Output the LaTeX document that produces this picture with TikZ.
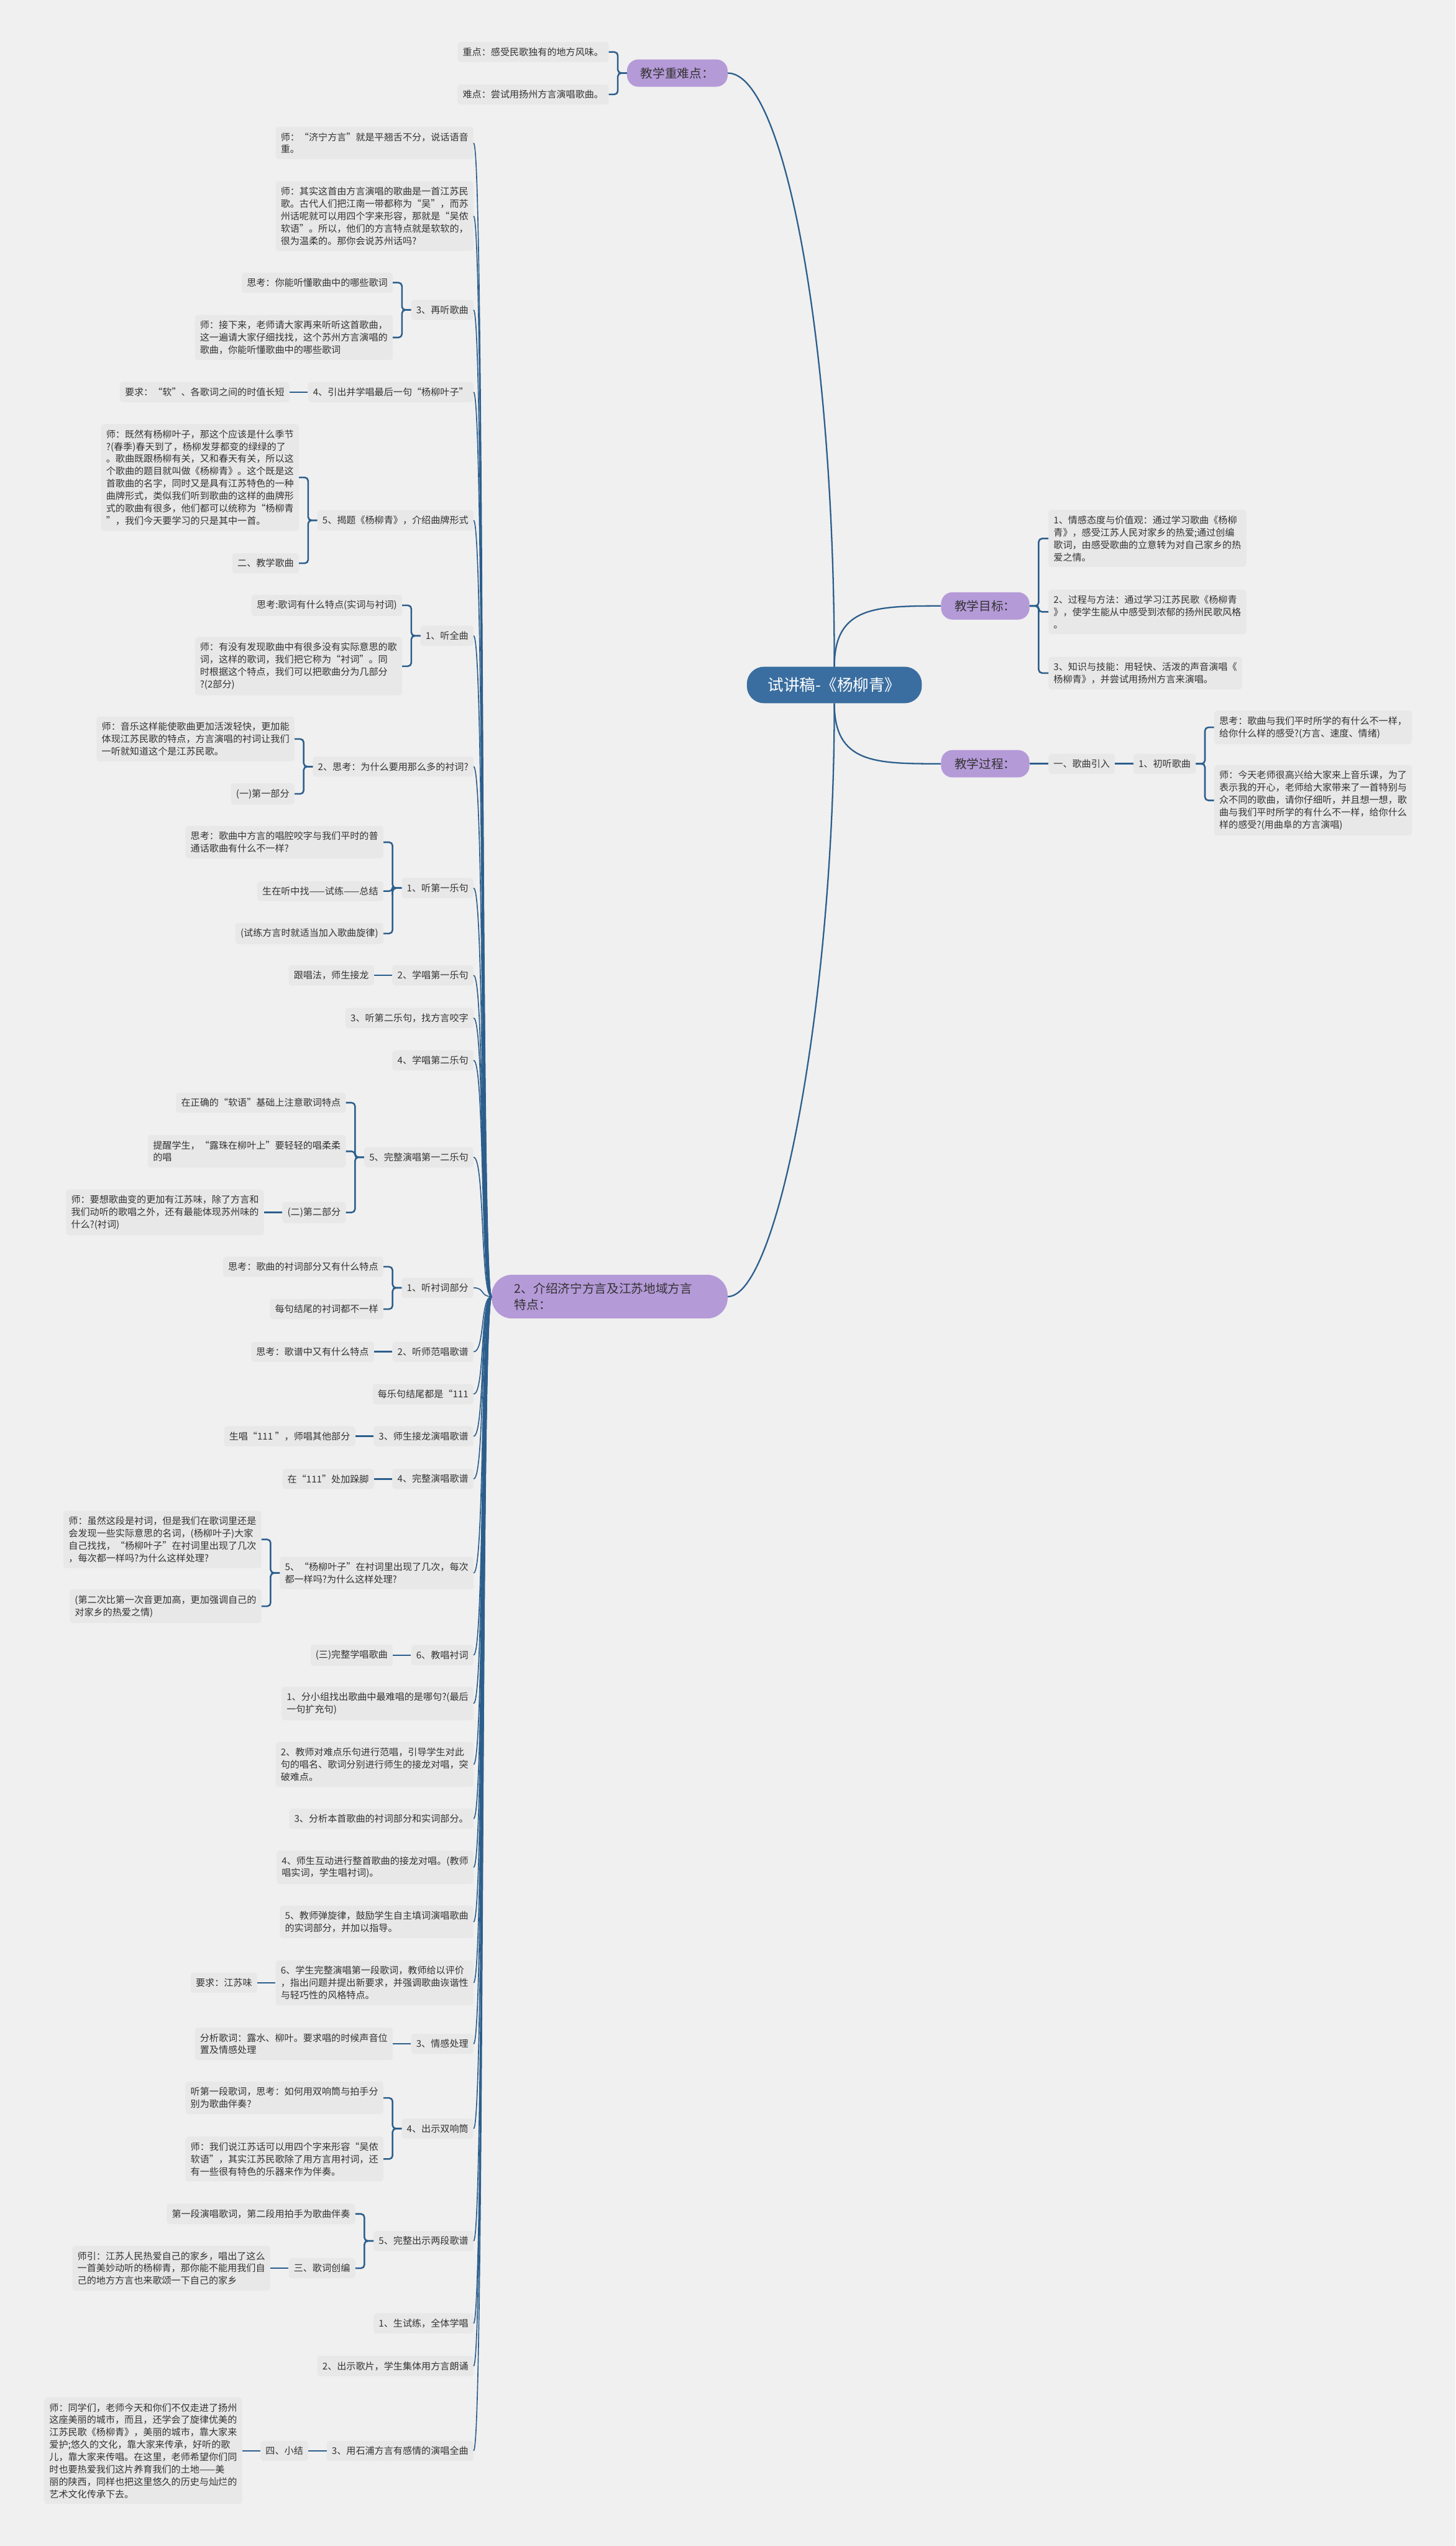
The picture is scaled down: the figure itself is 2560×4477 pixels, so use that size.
\documentclass[tikz,border=0pt]{standalone}
\usepackage{fontspec}
\usepackage{tikz}
\usetikzlibrary{positioning}
\newfontfamily\cjk{Noto Sans CJK SC}
\definecolor{bgcol}{RGB}{240,240,240}
\definecolor{boxgray}{RGB}{232,232,232}
\definecolor{linkblue}{RGB}{44,94,140}
\definecolor{rootblue}{RGB}{58,110,160}
\definecolor{topicpurple}{RGB}{181,154,216}
\definecolor{inkgray}{RGB}{51,51,51}

\begin{document}
\begin{tikzpicture}[x=1pt, y=-1pt,
        % boxes of the map
        root/.style={fill=rootblue, text=white, rounded corners=30pt, inner xsep=37pt, inner ysep=19pt, font=\cjk\fontsize{28}{34}\selectfont},
        topic/.style={fill=topicpurple, text=inkgray, rounded corners=20pt, inner xsep=24pt, inner ysep=14pt, align=left, font=\cjk\fontsize{21.5}{29}\selectfont},
        leaf/.style={fill=boxgray, text=inkgray, rounded corners=5pt, inner xsep=9pt, inner ysep=10pt, align=left, font=\cjk\fontsize{16.5}{21.7}\selectfont},
        % connectors
        stem/.style={draw=linkblue, line width=2.5pt},
        trunk/.style={draw=linkblue, line width=1.8pt},
        branch/.style={draw=linkblue, line width=2.8pt, rounded corners=6pt}
    ]

    \fill[bgcol] (0,0) rectangle (2560,4477);

    % centre and first level
    \node[root] (title) at (1467.5,1204.5) {试讲稿-《杨柳青》};
    \node[topic, anchor=east] (zhongnan) at (1280,128.5) {教学重难点：};
    \node[topic, anchor=west] (mubiao) at (1655,1065.5) {教学目标：};
    \node[topic, anchor=west] (guocheng) at (1655,1343) {教学过程：};
    \node[topic, anchor=east, text width=335pt, inner xsep=40pt, rounded corners=36pt] (fangyan) at (1280,2280) {2、介绍济宁方言及江苏地域方言\\特点：};

    \draw[stem] (title.north) .. controls (1467.5,600) and (1380,128.5) .. (zhongnan.east);
    \draw[stem] (title.north) .. controls (1467.5,1066) and (1540,1065.5) .. (mubiao.west);
    \draw[stem] (title.south) .. controls (1467.5,1343) and (1540,1343) .. (guocheng.west);
    \draw[stem] (title.south) .. controls (1467.5,1750) and (1370,2280) .. (fangyan.east);

    % key points
    \node[leaf, left=32pt of zhongnan, yshift=37pt] (zd1) {重点：感受民歌独有的地方风味。};
    \node[leaf, left=32pt of zhongnan, yshift=-37.5pt] (zd2) {难点：尝试用扬州方言演唱歌曲。};
    \foreach \c in {zd1,zd2}
        \draw[branch] (zhongnan.west) -- ++(-16,0) |- (\c.east);

    % goals
    \node[leaf, right=33pt of mubiao, yshift=118.5pt] (goal1) {1、情感态度与价值观：通过学习歌曲《杨柳\\青》，感受江苏人民对家乡的热爱;通过创编\\歌词，由感受歌曲的立意转为对自己家乡的热\\爱之情。};
    \node[leaf, right=33pt of mubiao, yshift=-10.5pt] (goal2) {2、过程与方法：通过学习江苏民歌《杨柳青\\》，使学生能从中感受到浓郁的扬州民歌风格\\。};
    \node[leaf, right=33pt of mubiao, yshift=-118pt] (goal3) {3、知识与技能：用轻快、活泼的声音演唱《\\杨柳青》，并尝试用扬州方言来演唱。};
    \foreach \c in {goal1,goal2,goal3}
        \draw[branch] (mubiao.east) -- ++(16,0) |- (\c.west);

    % process
    \node[leaf, right=33pt of guocheng] (yinru) {一、歌曲引入};
    \node[leaf, right=32pt of yinru] (chuting) {1、初听歌曲};
    \node[leaf, right=32pt of chuting, yshift=64pt] (think1) {思考：歌曲与我们平时所学的有什么不一样，\\给你什么样的感受?(方言、速度、情绪)};
    \node[leaf, right=32pt of chuting, yshift=-64.5pt] (teach1) {师：今天老师很高兴给大家来上音乐课，为了\\表示我的开心，老师给大家带来了一首特别与\\众不同的歌曲，请你仔细听，并且想一想，歌\\曲与我们平时所学的有什么不一样，给你什么\\样的感受?(用曲阜的方言演唱)};
    \draw[branch] (guocheng.east) -- (yinru.west);
    \draw[branch] (yinru.east) -- (chuting.west);
    \foreach \c in {think1,teach1}
        \draw[branch] (chuting.east) -- ++(16,0) |- (\c.west);

    % the long left column
    \node[leaf, anchor=east] (m1) at (833,251.5) {师：“济宁方言”就是平翘舌不分，说话语音\\重。};
    \node[leaf, anchor=east] (m2) at (833,380) {师：其实这首由方言演唱的歌曲是一首江苏民\\歌。古代人们把江南一带都称为“吴”，而苏\\州话呢就可以用四个字来形容，那就是“吴侬\\软语”。所以，他们的方言特点就是软软的，\\很为温柔的。那你会说苏州话吗?};
    \node[leaf, anchor=east] (m3) at (833,545) {3、再听歌曲};
    \node[leaf, anchor=east] (m4) at (833,689.5) {4、引出并学唱最后一句“杨柳叶子”};
    \node[leaf, anchor=east] (m5) at (833,915) {5、揭题《杨柳青》，介绍曲牌形式};
    \node[leaf, anchor=east] (m6) at (833,1118) {1、听全曲};
    \node[leaf, anchor=east] (m7) at (833,1348) {2、思考：为什么要用那么多的衬词?};
    \node[leaf, anchor=east] (m8) at (833,1561.5) {1、听第一乐句};
    \node[leaf, anchor=east] (m9) at (833,1715) {2、学唱第一乐句};
    \node[leaf, anchor=east] (m10) at (833,1790) {3、听第二乐句，找方言咬字};
    \node[leaf, anchor=east] (m11) at (833,1864.5) {4、学唱第二乐句};
    \node[leaf, anchor=east] (m12) at (833,2035) {5、完整演唱第一二乐句};
    \node[leaf, anchor=east] (m13) at (833,2264.5) {1、听衬词部分};
    \node[leaf, anchor=east] (m14) at (833,2377) {2、听师范唱歌谱};
    \node[leaf, anchor=east] (m15) at (833,2451.5) {每乐句结尾都是“111};
    \node[leaf, anchor=east] (m16) at (833,2525.5) {3、师生接龙演唱歌谱};
    \node[leaf, anchor=east] (m17) at (833,2600.5) {4、完整演唱歌谱};
    \node[leaf, anchor=east] (m18) at (833,2766) {5、“杨柳叶子”在衬词里出现了几次，每次\\都一样吗?为什么这样处理?};
    \node[leaf, anchor=east] (m19) at (833,2910.5) {6、教唱衬词};
    \node[leaf, anchor=east] (m20) at (833,2995.5) {1、分小组找出歌曲中最难唱的是哪句?(最后\\一句扩充句)};
    \node[leaf, anchor=east] (m21) at (833,3102.5) {2、教师对难点乐句进行范唱，引导学生对此\\句的唱名、歌词分别进行师生的接龙对唱，突\\破难点。};
    \node[leaf, anchor=east] (m22) at (833,3198) {3、分析本首歌曲的衬词部分和实词部分。};
    \node[leaf, anchor=east] (m23) at (833,3283.5) {4、师生互动进行整首歌曲的接龙对唱。(教师\\唱实词，学生唱衬词)。};
    \node[leaf, anchor=east] (m24) at (833,3379.5) {5、教师弹旋律，鼓励学生自主填词演唱歌曲\\的实词部分，并加以指导。};
    \node[leaf, anchor=east] (m25) at (833,3486.5) {6、学生完整演唱第一段歌词，教师给以评价\\，指出问题并提出新要求，并强调歌曲诙谐性\\与轻巧性的风格特点。};
    \node[leaf, anchor=east] (m26) at (833,3594) {3、情感处理};
    \node[leaf, anchor=east] (m27) at (833,3743) {4、出示双响筒};
    \node[leaf, anchor=east] (m28) at (833,3940.5) {5、完整出示两段歌谱};
    \node[leaf, anchor=east] (m29) at (833,4085.5) {1、生试练，全体学唱};
    \node[leaf, anchor=east] (m30) at (833,4160.5) {2、出示歌片，学生集体用方言朗诵};
    \node[leaf, anchor=east] (m31) at (833,4309.5) {3、用石浦方言有感情的演唱全曲};

    \foreach \i in {1,...,31}
        \draw[trunk] (fangyan.west) .. controls +(-20,0) and +(20,0) .. (m\i.east);

    % their children
    \node[leaf, left=32pt of m3, yshift=48pt] (s3a) {思考：你能听懂歌曲中的哪些歌词};
    \node[leaf, left=32pt of m3, yshift=-48.5pt] (s3b) {师：接下来，老师请大家再来听听这首歌曲，\\这一遍请大家仔细找找，这个苏州方言演唱的\\歌曲，你能听懂歌曲中的哪些歌词};
    \node[leaf, left=32pt of m4] (s4a) {要求：“软”、各歌词之间的时值长短};
    \node[leaf, left=32pt of m5, yshift=75.5pt] (s5a) {师：既然有杨柳叶子，那这个应该是什么季节\\?(春季)春天到了，杨柳发芽都变的绿绿的了\\。歌曲既跟杨柳有关，又和春天有关，所以这\\个歌曲的题目就叫做《杨柳青》。这个既是这\\首歌曲的名字，同时又是具有江苏特色的一种\\曲牌形式，类似我们听到歌曲的这样的曲牌形\\式的歌曲有很多，他们都可以统称为“杨柳青\\”，我们今天要学习的只是其中一首。};
    \node[leaf, left=32pt of m5, yshift=-75.5pt] (s5b) {二、教学歌曲};
    \node[leaf, left=32pt of m6, yshift=53.5pt] (s6a) {思考:歌词有什么特点(实词与衬词)};
    \node[leaf, left=32pt of m6, yshift=-53.5pt] (s6b) {师：有没有发现歌曲中有很多没有实际意思的歌\\词，这样的歌词，我们把它称为“衬词”。同\\时根据这个特点，我们可以把歌曲分为几部分\\?(2部分)};
    \node[leaf, left=32pt of m7, yshift=48.5pt] (s7a) {师：音乐这样能使歌曲更加活泼轻快，更加能\\体现江苏民歌的特点，方言演唱的衬词让我们\\一听就知道这个是江苏民歌。};
    \node[leaf, left=32pt of m7, yshift=-48pt] (s7b) {(一)第一部分};
    \node[leaf, left=32pt of m8, yshift=80.5pt] (s8a) {思考：歌曲中方言的唱腔咬字与我们平时的普\\通话歌曲有什么不一样?};
    \node[leaf, left=32pt of m8, yshift=-5.5pt] (s8b) {生在听中找——试练——总结};
    \node[leaf, left=32pt of m8, yshift=-80pt] (s8c) {(试练方言时就适当加入歌曲旋律)};
    \node[leaf, left=32pt of m9] (s9a) {跟唱法，师生接龙};
    \node[leaf, left=32pt of m12, yshift=96pt] (s12a) {在正确的“软语”基础上注意歌词特点};
    \node[leaf, left=32pt of m12, yshift=10.5pt] (s12b) {提醒学生，“露珠在柳叶上”要轻轻的唱柔柔\\的唱};
    \node[leaf, left=32pt of m12, yshift=-97pt] (s12c) {(二)第二部分};
    \node[leaf, left=32pt of s12c] (t12) {师：要想歌曲变的更加有江苏味，除了方言和\\我们动听的歌唱之外，还有最能体现苏州味的\\什么?(衬词)};
    \node[leaf, left=32pt of m13, yshift=37pt] (s13a) {思考：歌曲的衬词部分又有什么特点};
    \node[leaf, left=32pt of m13, yshift=-37.5pt] (s13b) {每句结尾的衬词都不一样};
    \node[leaf, left=32pt of m14] (s14a) {思考：歌谱中又有什么特点};
    \node[leaf, left=32pt of m16] (s16a) {生唱“111 ”，师唱其他部分};
    \node[leaf, left=32pt of m17] (s17a) {在“111”处加跺脚};
    \node[leaf, left=32pt of m18, yshift=59pt] (s18a) {师：虽然这段是衬词，但是我们在歌词里还是\\会发现一些实际意思的名词，(杨柳叶子)大家\\自己找找，“杨柳叶子”在衬词里出现了几次\\，每次都一样吗?为什么这样处理?};
    \node[leaf, left=32pt of m18, yshift=-58.5pt] (s18b) {(第二次比第一次音更加高，更加强调自己的\\对家乡的热爱之情)};
    \node[leaf, left=32pt of m19] (s19a) {(三)完整学唱歌曲};
    \node[leaf, left=32pt of m25] (s25a) {要求：江苏味};
    \node[leaf, left=32pt of m26] (s26a) {分析歌词：露水、柳叶。要求唱的时候声音位\\置及情感处理};
    \node[leaf, left=32pt of m27, yshift=54pt] (s27a) {听第一段歌词，思考：如何用双响筒与拍手分\\别为歌曲伴奏?};
    \node[leaf, left=32pt of m27, yshift=-53.5pt] (s27b) {师：我们说江苏话可以用四个字来形容“吴侬\\软语”，其实江苏民歌除了用方言用衬词，还\\有一些很有特色的乐器来作为伴奏。};
    \node[leaf, left=32pt of m28, yshift=47.5pt] (s28a) {第一段演唱歌词，第二段用拍手为歌曲伴奏};
    \node[leaf, left=32pt of m28, yshift=-48pt] (s28b) {三、歌词创编};
    \node[leaf, left=32pt of s28b] (t28) {师引：江苏人民热爱自己的家乡，唱出了这么\\一首美妙动听的杨柳青，那你能不能用我们自\\己的地方方言也来歌颂一下自己的家乡};
    \node[leaf, left=32pt of m31] (s31a) {四、小结};
    \node[leaf, left=32pt of s31a] (t31) {师：同学们，老师今天和你们不仅走进了扬州\\这座美丽的城市，而且，还学会了旋律优美的\\江苏民歌《杨柳青》，美丽的城市，靠大家来\\爱护;悠久的文化，靠大家来传承，好听的歌\\儿，靠大家来传唱。在这里，老师希望你们同\\时也要热爱我们这片养育我们的土地——美\\丽的陕西，同样也把这里悠久的历史与灿烂的\\艺术文化传承下去。};

    % brackets
    \foreach \c in {s3a,s3b} \draw[branch] (m3.west) -- ++(-16,0) |- (\c.east);
    \foreach \c in {s5a,s5b} \draw[branch] (m5.west) -- ++(-16,0) |- (\c.east);
    \foreach \c in {s6a,s6b} \draw[branch] (m6.west) -- ++(-16,0) |- (\c.east);
    \foreach \c in {s7a,s7b} \draw[branch] (m7.west) -- ++(-16,0) |- (\c.east);
    \foreach \c in {s8a,s8b,s8c} \draw[branch] (m8.west) -- ++(-16,0) |- (\c.east);
    \foreach \c in {s12a,s12b,s12c} \draw[branch] (m12.west) -- ++(-16,0) |- (\c.east);
    \foreach \c in {s13a,s13b} \draw[branch] (m13.west) -- ++(-16,0) |- (\c.east);
    \foreach \c in {s18a,s18b} \draw[branch] (m18.west) -- ++(-16,0) |- (\c.east);
    \foreach \c in {s27a,s27b} \draw[branch] (m27.west) -- ++(-16,0) |- (\c.east);
    \foreach \c in {s28a,s28b} \draw[branch] (m28.west) -- ++(-16,0) |- (\c.east);

    % single links
    \draw[branch] (m4.west) -- (s4a.east);
    \draw[branch] (m9.west) -- (s9a.east);
    \draw[branch] (s12c.west) -- (t12.east);
    \draw[branch] (m14.west) -- (s14a.east);
    \draw[branch] (m16.west) -- (s16a.east);
    \draw[branch] (m17.west) -- (s17a.east);
    \draw[branch] (m19.west) -- (s19a.east);
    \draw[branch] (m25.west) -- (s25a.east);
    \draw[branch] (m26.west) -- (s26a.east);
    \draw[branch] (s28b.west) -- (t28.east);
    \draw[branch] (m31.west) -- (s31a.east);
    \draw[branch] (s31a.west) -- (t31.east);

\end{tikzpicture}
\end{document}
